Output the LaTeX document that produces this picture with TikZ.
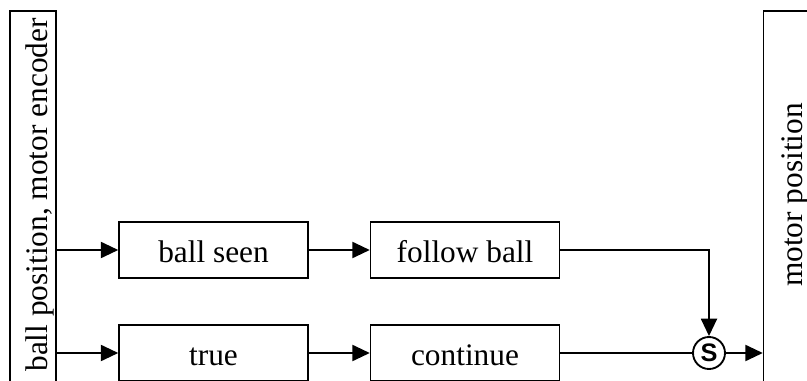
\documentclass[tikz,border=0pt]{standalone}
\usepackage{fontspec}
\setmainfont{Liberation Serif}
\newfontfamily\sfb{Liberation Sans}
\usetikzlibrary{arrows.meta}
\tikzset{
  blk/.style={draw, line width=1.1pt, minimum width=141.75pt, minimum height=42pt, inner sep=0pt, text height=19pt, text depth=0pt, font=\fontsize{23.5}{28}\selectfont},
  side/.style={draw, line width=1.1pt, minimum width=34.5pt, minimum height=300pt, inner sep=0pt},
  vlabel/.style={rotate=90, anchor=base, inner sep=0pt, font=\fontsize{23.5}{28}\selectfont},
  sel/.style={circle, draw, line width=1.4pt, minimum size=24pt, inner sep=0pt, font=\sfb\bfseries\fontsize{19}{22}\selectfont},
  arr/.style={line width=1.4pt, -{Triangle[length=13pt,width=12pt]}},
  ln/.style={line width=1.4pt}
}
\begin{document}
\begin{tikzpicture}[x=0.75pt,y=-0.75pt]
\useasboundingbox (0,0) rectangle (807,381);
\clip (0,0) rectangle (807,381);
\node[side] (L) at (33,211) {};
\node[vlabel] (Lt) at (47,195) {ball position, motor encoder};
\node[side] (R) at (786.5,211) {};
\node[vlabel] (Rt) at (802,195) {motor position};
\node[blk] (seen) at (213.5,250) {ball seen};
\node[blk] (follow) at (465,250) {follow ball};
\node[blk] (true) at (213.5,353) {true};
\node[blk] (cont) at (465,353) {continue};
\node[sel] (S) at (709,353) {S};
\draw[arr] (L.east |- seen.west) -- (seen.west);
\draw[arr] (seen.east) -- (follow.west);
\draw[arr] (follow.east) -| (S.north);
\draw[arr] (L.east |- true.west) -- (true.west);
\draw[arr] (true.east) -- (cont.west);
\draw[ln] (cont.east) -- (S.west);
\draw[arr] (S.east) -- (R.west |- S.east);
\end{tikzpicture}
\end{document}
